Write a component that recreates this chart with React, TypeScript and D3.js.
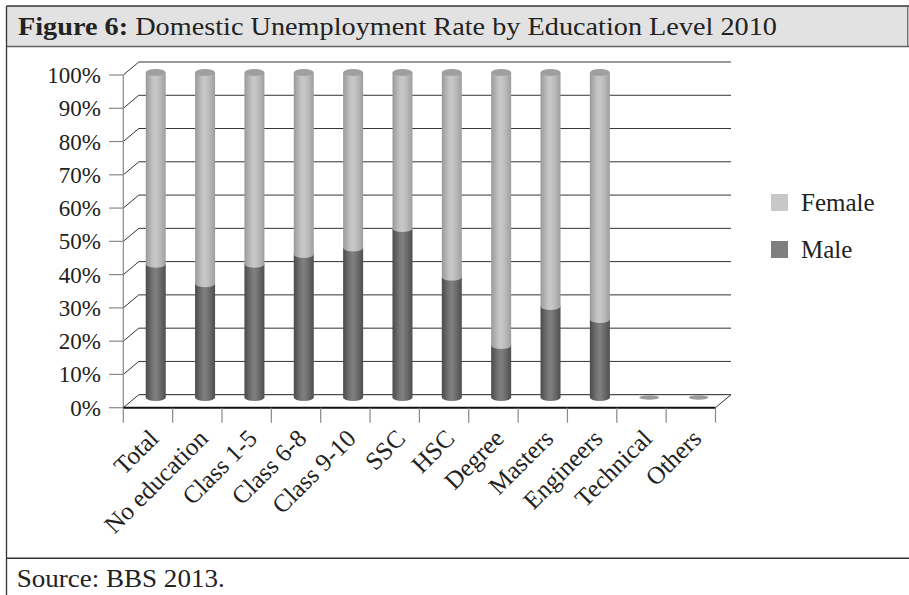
import React from "react";
import * as d3 from "d3";

const categories = ["Total", "No education", "Class 1-5", "Class 6-8", "Class 9-10", "SSC", "HSC", "Degree", "Masters", "Engineers", "Technical", "Others"];
const maleValues = [41, 35, 41, 44, 46, 52, 37, 16, 28, 24, 0, 0];
const femaleValues = [59, 65, 59, 56, 54, 48, 63, 84, 72, 76, 0, 0];
const yTicks = [0, 10, 20, 30, 40, 50, 60, 70, 80, 90, 100];
const seriesNames = ["Female", "Male"];

const W = 909;
const H = 595;
const FONT = "'Liberation Serif', 'Times New Roman', serif";

export default function App() {
  const x = d3.scaleBand<string>().domain(categories).range([123.3, 715.5]).padding(0);
  const yFront = d3.scaleLinear().domain([0, 100]).range([407.7, 75]);
  const DX = 15.5;
  const DY = -13;
  const yCyl = d3.scaleLinear().domain([0, 100]).range([397.5, 72.5]);
  const bw = x.bandwidth();
  const rx = 10;
  const ry = 3.5;
  const xLeft = 123.3;
  const xRight = 715.5;

  const cyl = (i: number) => (x(categories[i]) as number) + bw / 2 + DX / 2;

  return (
    <svg width={W} height={H} style={{ position: "absolute", left: 0, top: 0, background: "#fff" }} fontFamily={FONT}>
      <defs>
        <linearGradient id="gMale" x1="0" x2="1" y1="0" y2="0">
          <stop offset="0" stopColor="#4a4a4a" />
          <stop offset="0.35" stopColor="#767676" />
          <stop offset="0.5" stopColor="#808080" />
          <stop offset="0.7" stopColor="#6e6e6e" />
          <stop offset="1" stopColor="#4e4e4e" />
        </linearGradient>
        <linearGradient id="gFemale" x1="0" x2="1" y1="0" y2="0">
          <stop offset="0" stopColor="#999999" />
          <stop offset="0.35" stopColor="#c2c2c2" />
          <stop offset="0.5" stopColor="#c8c8c8" />
          <stop offset="0.7" stopColor="#bbbbbb" />
          <stop offset="1" stopColor="#9e9e9e" />
        </linearGradient>
      </defs>

      {/* header */}
      <rect x={6.5} y={6} width={901.5} height={40.5} fill="#e2e2e2" stroke="none" />
      <line x1={6.5} x2={909} y1={6} y2={6} stroke="#333" strokeWidth={1.5} />
      <line x1={6.5} x2={909} y1={46.5} y2={46.5} stroke="#666" strokeWidth={1.5} />
      <line x1={907.8} x2={907.8} y1={6} y2={46.5} stroke="#555" strokeWidth={1.2} />
      <line x1={6.5} x2={6.5} y1={6} y2={H} stroke="#333" strokeWidth={1.3} />
      <text x={18} y={35} fontSize={25} fill="#222" textLength={759} lengthAdjust="spacingAndGlyphs">
        <tspan fontWeight="bold">Figure 6:</tspan>
        <tspan> Domestic Unemployment Rate by Education Level 2010</tspan>
      </text>

      {/* back wall gridlines */}
      {yTicks.map((t) => (
        <line key={"g" + t} x1={xLeft + DX} x2={xRight + DX} y1={yFront(t) + DY} y2={yFront(t) + DY}
          stroke={t === 0 ? "#222" : "#333"} strokeWidth={1} />
      ))}
      {/* side wall diagonals */}
      {yTicks.map((t) => (
        <line key={"d" + t} x1={xLeft} x2={xLeft + DX} y1={yFront(t)} y2={yFront(t) + DY} stroke="#333" strokeWidth={1} />
      ))}
      {/* right floor edge */}
      <line x1={xRight} x2={xRight + DX} y1={yFront(0)} y2={yFront(0) + DY} stroke="#333" strokeWidth={1} />
      {/* y axis */}
      <line x1={xLeft} x2={xLeft} y1={yFront(100)} y2={yFront(0)} stroke="#888" strokeWidth={1.2} />
      {yTicks.map((t) => (
        <g key={"t" + t}>
          <line x1={109} x2={xLeft} y1={yFront(t)} y2={yFront(t)} stroke="#888" strokeWidth={1.2} />
          <text x={101} y={yFront(t)} dy="0.35em" textAnchor="end" fontSize={23} fill="#222">{t}%</text>
        </g>
      ))}

      {/* cylinders */}
      {categories.map((c, i) => {
        const cx = cyl(i);
        const m = maleValues[i];
        const f = femaleValues[i];
        if (m + f === 0) {
          return <ellipse key={c} cx={cx} cy={yCyl(0)} rx={rx} ry={2.2} fill="#9a9a9a" />;
        }
        const y0 = yCyl(0);
        const y1 = yCyl(m);
        const y2 = yCyl(m + f);
        return (
          <g key={c}>
            <ellipse cx={cx} cy={y0} rx={rx} ry={ry} fill="url(#gMale)" />
            <rect x={cx - rx} y={y1} width={rx * 2} height={y0 - y1} fill="url(#gMale)" />
            <ellipse cx={cx} cy={y1} rx={rx} ry={ry} fill="#666" />
            <path d={`M${cx - rx},${y1} A${rx},${ry} 0 0,0 ${cx + rx},${y1} L${cx + rx},${y2} L${cx - rx},${y2} Z`} fill="url(#gFemale)" />
            <ellipse cx={cx} cy={y2} rx={rx} ry={ry} fill="#9f9f9f" />
          </g>
        );
      })}

      {/* front floor line and ticks */}
      <line x1={xLeft} x2={xRight} y1={yFront(0)} y2={yFront(0)} stroke="#111" strokeWidth={2} />
      {d3.range(categories.length + 1).map((i) => {
        const xx = xLeft + i * bw;
        return <line key={"xt" + i} x1={xx} x2={xx} y1={yFront(0)} y2={yFront(0) + 15} stroke="#888" strokeWidth={1.2} />;
      })}
      {categories.map((c) => {
        const px = (x(c) as number) + bw / 2 + 12;
        const py = 440;
        return (
          <text key={"l" + c} x={px} y={py} textAnchor="end" fontSize={25} fill="#222" transform={`rotate(-45,${px},${py})`}>{c}</text>
        );
      })}

      {/* legend */}
      {seriesNames.map((s, i) => (
        <g key={s}>
          <rect x={771} y={194 + i * 47} width={17} height={17} fill={i === 0 ? "#c8c8c8" : "#7f7f7f"} />
          <text x={801} y={211 + i * 47} fontSize={25} fill="#222">{s}</text>
        </g>
      ))}

      {/* source */}
      <line x1={6.5} x2={909} y1={558.3} y2={558.3} stroke="#333" strokeWidth={1.5} />
      <text x={16.7} y={586.7} fontSize={25} fill="#222" textLength={208} lengthAdjust="spacingAndGlyphs">Source: BBS 2013.</text>
    </svg>
  );
}
